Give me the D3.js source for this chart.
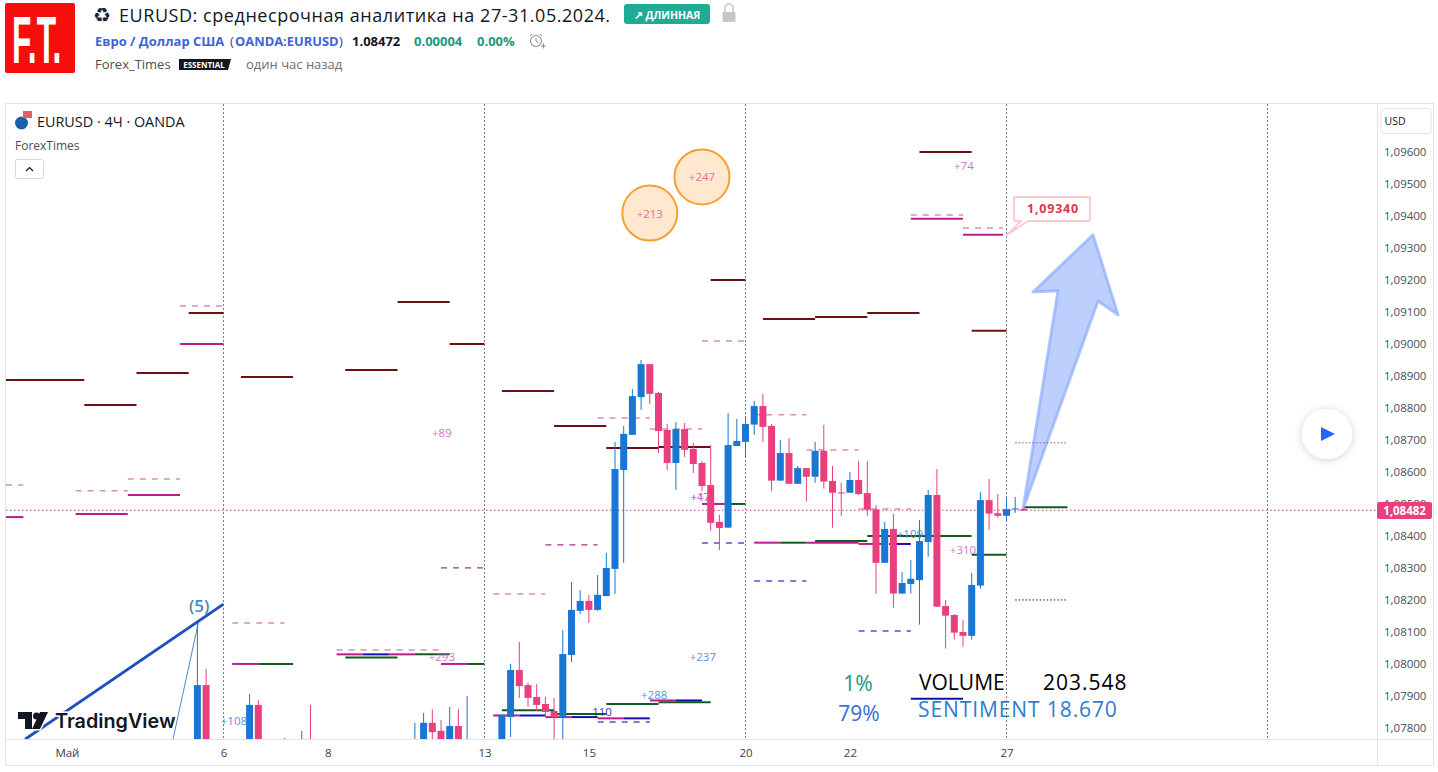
<!DOCTYPE html>
<html><head><meta charset="utf-8">
<script src="https://cdn.jsdelivr.net/npm/d3@7/dist/d3.min.js"></script>
<style>html,body{margin:0;background:#fff;overflow:hidden}svg{display:block}text{font-family:"Open Sans","Noto Sans",sans-serif}</style>
</head><body><div id="c"></div>
<script>
// Prices are in 1/100000 of a dollar; bars are 4H bars counted from 6 May 00:00.
const priceTicks=[109600,109500,109400,109300,109200,109100,109000,108900,108800,108700,108600,108500,108400,108300,108200,108100,108000,107900,107800];
const timeTicks=[-18,0,12,30,42,60,72,90];
const timeLabels=["Май","6","8","13","15","20","22","27"];
const weekLines=[0,30,60,90,120];
const bars=[-3,-2,3,4,7,9,10,22,23,24,25,26,27,28,29,32,33,34,35,36,37,38,39,40,41,42,43,44,45,46,47,48,49,50,51,52,53,54,55,56,57,58,59,60,61,62,63,64,65,66,67,68,69,70,71,72,73,74,75,76,77,78,79,80,81,82,83,84,85,86,87,88,89,90,91,92];
const opens=[107697,107931,107740,107869,107700,107680,107720,107700,107740,107813,107788,107730,107803,107690,107730,107700,107831,107978,107931,107894,107872,107850,107831,108025,108163,108194,108166,108209,108294,108603,108713,108831,108934,108844,108728,108625,108731,108669,108625,108556,108441,108423,108678,108691,108745,108803,108741,108570,108656,108560,108609,108582,108663,108569,108533,108532,108572,108531,108480,108313,108419,108217,108247,108259,108378,108525,108178,108150,108097,108085,108242,108509,108468,108460,108480,108481];
const highs=[108125,107981,107903,107884,107766,107788,107869,107813,107844,107856,107822,107863,107856,107897,107759,107841,107997,108066,107938,107934,107894,107891,108103,108253,108228,108213,108275,108344,108691,108741,108856,108947,108934,108847,108747,108753,108750,108688,108631,108681,108463,108781,108763,108769,108819,108841,108747,108697,108703,108616,108609,108691,108744,108616,108563,108597,108631,108631,108493,108441,108466,108284,108322,108447,108541,108606,108197,108153,108134,108281,108534,108575,108528,108516,108519,108484];
const lows=[107650,107650,107720,107720,107650,107650,107680,107680,107720,107740,107700,107700,107700,107670,107680,107680,107769,107891,107863,107850,107831,107744,107744,108003,108153,108125,108163,108209,108216,108313,108713,108791,108809,108656,108603,108541,108644,108594,108538,108413,108353,108423,108678,108641,108713,108691,108538,108570,108560,108560,108504,108563,108545,108423,108460,108532,108525,108460,108217,108313,108173,108217,108217,108120,108332,108176,108045,108073,108051,108073,108232,108417,108454,108445,108469,108475];
const closes=[107931,107700,107869,107740,107720,107720,107700,107740,107813,107784,107730,107803,107730,107730,107700,107838,107978,107928,107891,107869,107847,107831,108028,108166,108194,108166,108213,108297,108606,108716,108834,108934,108841,108725,108625,108731,108666,108622,108553,108438,108422,108681,108694,108747,108803,108738,108570,108656,108560,108609,108582,108663,108567,108532,108531,108572,108528,108479,108313,108419,108217,108250,108263,108381,108525,108176,108148,108095,108085,108244,108509,108467,108460,108481,108483,108476];

const darkRedLevels=[[-25,-16,108884],[-16,-10,108806],[-10,-4,108906],[-4,0,109094],[2,8,108894],[14,20,108916],[20,26,109128],[26,30,108997],[32,38,108850],[38,44,108741],[44,50,108672],[50,56,108675],[56,60,109197],[62,68,109075],[68,74,109081],[74,80,109094],[80,86,109597],[86,90,109038]];
const magentaLevels=[[-25,-23,108456],[-17,-11,108466],[-11,-5,108525],[-5,0,108997],[79,85,109388],[85,89.6,109338],[1,4,107997],[13,16,108027],[19,22,108027],[25,28,107997],[31,34,107836],[37,40,107831],[43,46,107827],[49,52,107883],[55,58,108497],[61,64,108376],[67,73,108376],[73,76,108372]];
const greenLevels=[[4,8,107997],[22,26,108027],[14,20,108017],[28,30,107997],[32,38,107852],[38,44,107841],[44,50,107872],[50,56,107877],[58,60,108497],[64,67,108376],[68,74,108381],[74,86,108397],[86,90,108338],[92,97,108487]];
const blueLevels=[[16,19,108027],[34,37,107836],[40,43,107831],[46,49,107827],[52,55,107883],[76.5,79,108372],[79,85,107888]];
const pinkDashLevels=[[-25,-23,108556],[-17,-11,108538],[-11,-5,108575],[-5,0,109116],[79,85,109400],[85,89.6,109359],[1,7,108125],[13,25,108041],[31,37,108216],[43,49,108766],[49,55,108731],[55,60,109006],[61,67,108776],[67,73,108666],[73,79,108481]];
const deepDashLevels=[[37,43,108369],[25,30,108297]];
const blueDashLevels=[[55,60,108375],[61,67,108256],[73,79,108100],[43,49,107816]];
const pinkDotLevels=[[91,97,108688]];
const navyDotLevels=[[91,97,108197]];
const lastPrice=108482;
const circleNotes=[[49,109406,"+213"],[55,109519,"+247"]];
const pinkNotes=[[25.1,108719,"+89"],[85.1,109556,"+74"],[25.1,108019,"+293"],[54.8,108519,"+47"],[54.8,108519,"+17"],[85,108356,"+310"]];
const blueNotes=[[1.2,107819,"+108"],[78.9,108406,"+109"],[55.1,108019,"+237"],[49.5,107903,"+288"]];
const navyNotes=[[43.3,107847,"-110"]];
const circleBars=[[49,109406],[55,109519]];
const wedgeLine=[[-22.8,107762],[0,108184]];
const waveLine=[[-5.8,107762],[-2.9,108125]];
const arrowPoints=[[91.9,108481],[95.92,109163],[93.05,109159],[99.94,109338],[102.82,109088],[100.52,109131]];
const targetPrice=109340;

const W=1438,H=772;
const x=d3.scaleLinear().domain([0,90]).range([223.5,1006.5]);
const y=d3.scaleLinear().domain([107800,109600]).range([727,151]);
const svg=d3.select("#c").append("svg").attr("width",W).attr("height",H);
const defs=svg.append("defs");
defs.append("clipPath").attr("id","pane").append("rect").attr("x",6).attr("y",104).attr("width",1371).attr("height",635);
const f=defs.append("filter").attr("id","sh").attr("x","-50%").attr("y","-50%").attr("width","200%").attr("height","200%");
f.append("feDropShadow").attr("dx",0).attr("dy",1).attr("stdDeviation",4).attr("flood-color","#000").attr("flood-opacity",.18);

const txt=(g,px,py,s,size,col,o={})=>g.append("text").attr("x",px).attr("y",py).attr("font-size",size).attr("fill",col)
  .attr("text-anchor",o.anchor||"start").attr("font-weight",o.weight||400).attr("dominant-baseline","central").attr("letter-spacing",o.ls||0).text(s);

// header
const head=svg.append("g");
head.append("rect").attr("x",5).attr("y",3).attr("width",70).attr("height",70).attr("rx",2).attr("fill","#f80d0d");
txt(head,0,0,"F.T.",66,"#fff",{weight:700}).attr("transform","translate(12,40) scale(.48,1)").style("font-family","'Liberation Sans',sans-serif");
txt(head,93,15,"♻",20,"#1f2330").style("font-family","DejaVu Sans");
txt(head,119,15,"EURUSD: среднесрочная аналитика на 27-31.05.2024.",18,"#131722",{ls:.55});
head.append("rect").attr("x",624).attr("y",4).attr("width",86).attr("height",20).attr("rx",3).attr("fill","#22ab94");
txt(head,667,14.5,"↗ ДЛИННАЯ",10.5,"#fff",{anchor:"middle",weight:700});
head.append("rect").attr("x",722.5).attr("y",12).attr("width",13).attr("height",10).attr("rx",1).attr("fill","#c4c6cc");
head.append("path").attr("d","M725 12v-4a4 4 0 0 1 8 0v4").attr("fill","none").attr("stroke","#c4c6cc").attr("stroke-width",1.6);
txt(head,95,41,"Евро / Доллар США",13,"#3f63d6",{weight:700});
txt(head,230,41,"(",13,"#2a4a9a");
txt(head,235,41,"OANDA:EURUSD",12.9,"#3f63d6",{weight:700});
txt(head,339,41,")",13,"#2a4a9a");
txt(head,352,41,"1.08472",13,"#131722",{weight:700});
txt(head,414,41,"0.00004",13,"#22967e",{weight:700});
txt(head,477,41,"0.00%",13,"#22967e",{weight:700});
head.append("circle").attr("cx",536).attr("cy",41).attr("r",5.5).attr("fill","none").attr("stroke","#8a8e99").attr("stroke-width",1.1);
head.append("path").attr("d","M536 38v3l2 2M530 36l2-2M542 36l-2-2M541 46h5M543.5 43.5v5").attr("fill","none").attr("stroke","#8a8e99");
txt(head,95,64,"Forex_Times",13,"#4a4d57");
head.append("path").attr("d","M179 59h52l-3 11h-49z").attr("fill","#15171f");
txt(head,204,64.5,"ESSENTIAL",8,"#fff",{anchor:"middle",weight:700});
txt(head,246,64,"один час назад",13,"#6a6d78");

// frame
svg.append("rect").attr("x",5.5).attr("y",103.5).attr("width",1428).attr("height",662).attr("fill","#fff").attr("stroke","#e0e3eb");
svg.append("line").attr("x1",1377.5).attr("x2",1377.5).attr("y1",104).attr("y2",765).attr("stroke","#e0e3eb");
svg.append("line").attr("x1",6).attr("x2",1433).attr("y1",739.5).attr("y2",739.5).attr("stroke","#e0e3eb");

const pane=svg.append("g").attr("clip-path","url(#pane)");
pane.selectAll(".wk").data(weekLines).join("line").attr("x1",d=>x(d)).attr("x2",d=>x(d)).attr("y1",104).attr("y2",739)
  .attr("stroke","#787b86").attr("stroke-dasharray","2 2");
pane.append("line").attr("x1",6).attr("x2",1377).attr("y1",y(lastPrice)+1.5).attr("y2",y(lastPrice)+1.5).attr("stroke","#c4408c").attr("stroke-dasharray","1.5 2.5");

// wave annotation
const seg=d3.line().x(d=>x(d[0])).y(d=>y(d[1]));
pane.append("path").attr("d",seg(waveLine)).attr("stroke","#4d8bc4").attr("fill","none").attr("stroke-width",1);
pane.append("path").attr("d",seg(wedgeLine)).attr("stroke","#2050c0").attr("fill","none").attr("stroke-width",3);
txt(pane,x(-2.8),605,"(5)",17,"#4a8ac0",{anchor:"middle",weight:600});

// circles
pane.selectAll(".cc").data(circleBars).join("circle").attr("cx",d=>x(d[0])).attr("cy",d=>y(d[1])).attr("r",27.5)
  .attr("fill","#ffe8cf").attr("stroke","#f5a030").attr("stroke-width",2);

// levels
const levels=(data,col,w,dash)=>pane.append("g").selectAll("line").data(data).join("line")
  .attr("x1",d=>x(d[0])).attr("x2",d=>x(d[1])).attr("y1",d=>y(d[2])).attr("y2",d=>y(d[2]))
  .attr("stroke",col).attr("stroke-width",w).attr("stroke-dasharray",dash||null);
levels(pinkDashLevels,"#d98cc4",1.5,"6 6");
levels(deepDashLevels,"#b03088",1.2,"6 6");
levels(blueDashLevels,"#5a4bd0",1.5,"6 6");
levels(darkRedLevels,"#6e0f12",2);
levels(greenLevels,"#14591e",2);
levels(magentaLevels,"#b91c8c",2);
levels(blueLevels,"#1410b0",2);

// arrow
pane.append("path").attr("d",seg(arrowPoints)+"Z")
  .attr("fill","#a1bcfc").attr("fill-opacity",.7).attr("stroke","#8fadfb").attr("stroke-opacity",.7).attr("stroke-width",3).attr("stroke-linejoin","round");
levels(pinkDotLevels,"#b8389a",1,"1.5 2");
levels(navyDotLevels,"#14146e",1,"1.5 2");

// candles
const idx=d3.range(bars.length);
const UP="#1976d2",DN="#ea3f7e";
const cg=pane.append("g");
cg.selectAll(".w").data(idx).join("line").attr("x1",i=>x(bars[i])).attr("x2",i=>x(bars[i]))
  .attr("y1",i=>y(highs[i])).attr("y2",i=>y(lows[i])).attr("stroke",i=>closes[i]>=opens[i]?UP:DN).attr("stroke-width",1);
cg.selectAll(".b").data(idx).join("rect").attr("x",i=>x(bars[i])-3.5).attr("width",7)
  .attr("y",i=>y(Math.max(opens[i],closes[i]))).attr("height",i=>Math.max(1,Math.abs(y(opens[i])-y(closes[i]))))
  .attr("fill",i=>closes[i]>=opens[i]?UP:DN);

// notes
const notes=(data,col,op)=>pane.append("g").selectAll("text").data(data).join("text").attr("x",d=>x(d[0])).attr("y",d=>y(d[1]))
  .attr("text-anchor","middle").attr("dominant-baseline","central").attr("font-size",11.5).attr("fill",col).attr("fill-opacity",op).text(d=>d[2]);
notes(circleNotes,"#e0709a",1);
notes(pinkNotes,"#c85fc4",.9);
notes(blueNotes,"#5d8ee0",1);
notes(navyNotes,"#3a34c8",1);

// callout
const cb=pane.append("g");
cb.append("path").attr("d","M1018 197h70a2 2 0 0 1 2 2v20a2 2 0 0 1 -2 2h-60l-21 14 14-14h-5a2 2 0 0 1 -2-2v-20a2 2 0 0 1 2-2z")
  .attr("fill","#fff").attr("stroke","#fbc9cf").attr("stroke-width",1.8);
txt(cb,1053,208.5,(targetPrice/100000).toFixed(5).replace(".",","),12.5,"#e0354f",{anchor:"middle",weight:700,ls:.8});

// big labels
txt(pane,858,683,"1%",21,"#1f9d88",{anchor:"middle"}).style("font-family","'Noto Sans',sans-serif");
txt(pane,859,713,"79%",21,"#3f6fe0",{anchor:"middle"}).style("font-family","'Noto Sans',sans-serif");
txt(pane,919,682,"VOLUME",21,"#000");
txt(pane,1043,682,"203.548",21,"#000",{ls:1});
txt(pane,918,709,"SENTIMENT 18.670",21,"#2f7bd0",{ls:.9});

// watermark logo
const lg=svg.append("g");
lg.append("path").attr("d","M18 712h14v17h-7v-10h-7zM48 712l-8 17h-8l8-17z").attr("fill","#131722").attr("stroke","#fff").attr("stroke-width",3).attr("paint-order","stroke");
lg.append("circle").attr("cx",36.5).attr("cy",716).attr("r",3.5).attr("fill","#131722");
txt(lg,55,721,"TradingView",19.8,"#131722",{weight:600}).style("font-family","Inter,sans-serif").attr("stroke","#fff").attr("stroke-width",3).attr("paint-order","stroke");

// legend
const leg=svg.append("g");
leg.append("circle").attr("cx",21.5).attr("cy",123).attr("r",6.5).attr("fill","#1d5fa8");
leg.append("rect").attr("x",23).attr("y",111).attr("width",9).attr("height",7).attr("fill","#e2606c");
txt(leg,37,121,"EURUSD · 4Ч · OANDA",14.4,"#131722");
txt(leg,15,145,"ForexTimes",12,"#4a4d57");
leg.append("rect").attr("x",15.5).attr("y",159.5).attr("width",28).attr("height",19).attr("rx",2).attr("fill","#fff").attr("stroke","#d8dbe3");
leg.append("path").attr("d","M26 171l3.5-3.5 3.5 3.5").attr("fill","none").attr("stroke","#131722").attr("stroke-width",1.2);

// axes
const yAxis=svg.append("g").attr("transform","translate(1377,0.7)").call(d3.axisRight(y).tickValues(priceTicks).tickSize(0).tickPadding(7).tickFormat(d=>(d/100000).toFixed(5).replace(".",",")));
yAxis.select(".domain").remove();
yAxis.selectAll("text").attr("font-size",11.5).attr("fill","#4a4d57").style("font-family","'Open Sans',sans-serif");
const xAxis=svg.append("g").attr("transform","translate(0,739)").call(d3.axisBottom(x).tickValues(timeTicks).tickSize(0).tickPadding(10).tickFormat((d,i)=>timeLabels[i]));
xAxis.select(".domain").remove();
xAxis.selectAll("text").attr("font-size",11.5).attr("fill","#3a3d47").style("font-family","'Open Sans',sans-serif");

// USD box, price tag, play
svg.append("rect").attr("x",1381).attr("y",108.5).attr("width",50).attr("height",25).attr("rx",3).attr("fill","#fff").attr("stroke","#e0e3eb");
txt(svg,1384.5,121,"USD",10.5,"#131722");
svg.append("rect").attr("x",1377).attr("y",502).attr("width",55).attr("height",17).attr("rx",2).attr("fill",DN);
txt(svg,1404.5,510.5,(lastPrice/100000).toFixed(5).replace(".",","),11.5,"#fff",{anchor:"middle",weight:700});
svg.append("circle").attr("cx",1327).attr("cy",434).attr("r",25).attr("fill","#fff").attr("filter","url(#sh)");
svg.append("path").attr("d","M1321 427l14 7-14 7z").attr("fill","#2962ff");
</script></body></html>
